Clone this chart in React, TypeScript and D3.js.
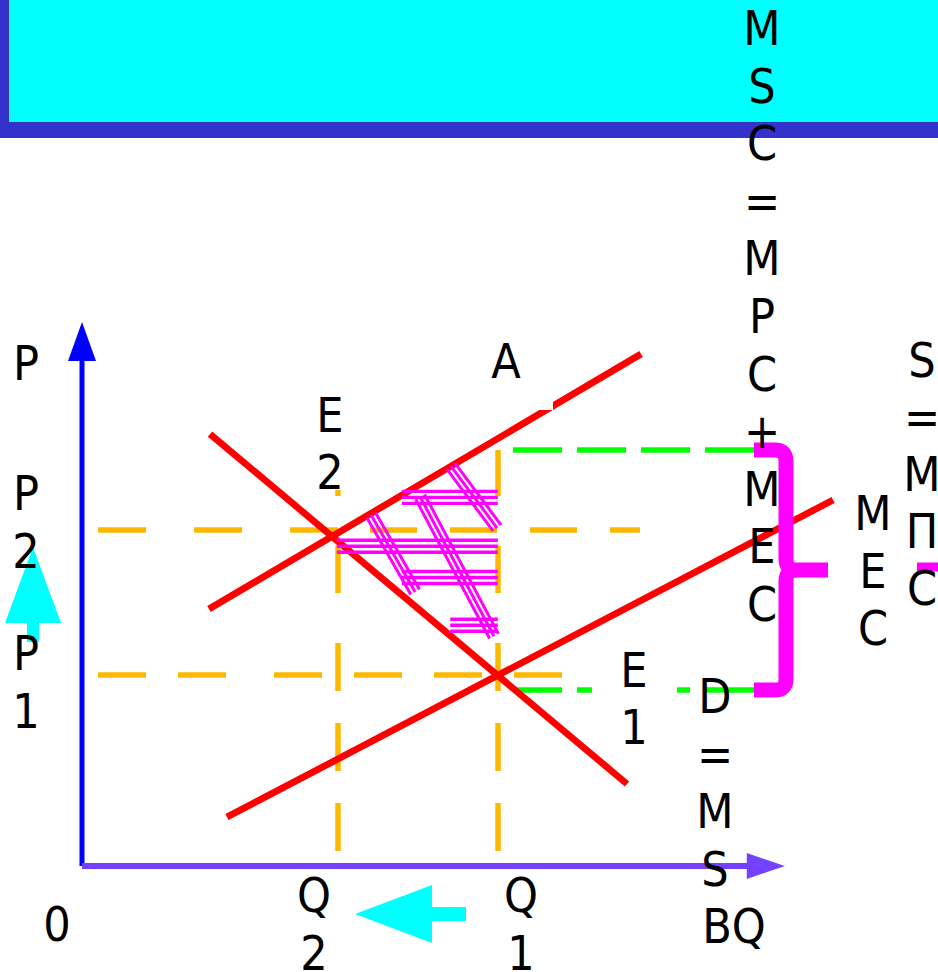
import React from 'react';
import * as d3 from 'd3';

const W = 938;
const H = 972;

// ---- scales (data units) ----
const xDomain = [0, 10];
const yDomain = [0, 10];

// ---- curves: MSC (= MPC + MEC), MPC (= S), D (= MSB) ----
const curveNames = ['MSC', 'MPC', 'D'];
const curveX0 = [1.814, 2.071, 1.829];
const curveY0 = [4.923, 0.923, 8.288];
const curveX1 = [7.986, 10.73, 7.786];
const curveY1 = [9.827, 7.02, 1.558];

// ---- equilibrium values ----
const P2 = 6.44;
const P1 = 3.654;
const Q2 = 3.657;
const Q1 = 5.943;
const socialCostAtQ1 = 7.981;
const privateCostAtQ1 = 3.365;
const mecMid = 5.673;

// ---- dashed guides ----
const guideOrient = ['h', 'h', 'h', 'h', 'v', 'v', 'v', 'v'];
const guideAt = [P2, P2, P1, P1, Q2, Q2, Q1, Q1];
const guideFrom = [0.229, 4.114, 0.229, 2.743, 0.269, 5.231, 0.269, 5.231];
const guideTo = [3.657, 7.971, 2.057, 6.857, 4.288, 7.212, 4.288, 7.981];
const guideDash = ['48 48', '47 33', '48 32', '48 32', '48 32', '47 50', '48 32', '47 50'];

// ---- green cost guides ----
const greenAt = [socialCostAtQ1, privateCostAtQ1];
const greenFrom = 6.157;
const greenTo = 9.643;

// ---- hatched welfare-loss area ----
const hatchHy = [7.07, 6.13, 5.53, 4.61];
const hatchHx0 = [4.57, 3.64, 4.57, 5.26];
const hatchHx1 = [5.94, 5.94, 5.94, 5.94];
const hatchDx0 = [5.27, 4.13, 4.83];
const hatchDy0 = [7.67, 6.73, 7.08];
const hatchDx1 = [5.93, 4.76, 5.886];
const hatchDy1 = [6.48, 5.25, 4.4];

// ---- bracket (MEC) ----
const bracketArm = 9.6;
const bracketSpine = 10.057;
const bracketNub = 10.657;

// ---- labels ----
const colMSC = ['M', 'S', 'C', '=', 'M', 'P', 'C', '+', 'M', 'E', 'C'];
const colS = ['S', '=', 'M', '\u03A0', 'C'];
const colMEC = ['M', 'E', 'C'];
const colD = ['D', '=', 'M', 'S'];

const FONT = "'Liberation Sans Narrow', 'DejaVu Sans Condensed', 'Liberation Sans', sans-serif";

function Col({ lines, x, y, step }: { lines: string[]; x: number; y: number; step: number }) {
  return (
    <text x={x} y={y} textAnchor="middle" fontSize={48} fontFamily={FONT} fill="#000">
      {lines.map((l, i) => (
        <tspan key={i} x={x} y={y + i * step}>
          {l}
        </tspan>
      ))}
    </text>
  );
}

function triple(x0: number, y0: number, x1: number, y1: number, sp: number) {
  const dx = x1 - x0;
  const dy = y1 - y0;
  const len = Math.hypot(dx, dy);
  const nx = -dy / len;
  const ny = dx / len;
  return [-1, 0, 1].map((k) => [x0 + nx * sp * k, y0 + ny * sp * k, x1 + nx * sp * k, y1 + ny * sp * k]);
}

export default function App() {
  React.useEffect(() => {
    document.body.style.margin = '0';
  }, []);

  const x = d3.scaleLinear().domain(xDomain).range([82, 782]);
  const y = d3.scaleLinear().domain(yDomain).range([865, 345]);
  const line = d3
    .line<[number, number]>()
    .x((d) => x(d[0]))
    .y((d) => y(d[1]));

  const yTop = y(socialCostAtQ1);
  const yBot = y(privateCostAtQ1);
  const yMid = y(mecMid);
  const xa = x(bracketArm);
  const xs = x(bracketSpine);
  const xn = x(bracketNub);
  const r = 11;
  const bracketPath =
    `M${xa},${yTop} H${xs - r} Q${xs},${yTop} ${xs},${yTop + r} V${yMid - r} Q${xs},${yMid} ${xs + r},${yMid} H${xn}` +
    ` M${xs + r},${yMid} Q${xs},${yMid} ${xs},${yMid + r} V${yBot - r} Q${xs},${yBot} ${xs - r},${yBot} H${xa}`;

  // cyan arrows (tip in data units)
  const upTip: [number, number] = [-0.7, 6.115];
  const leftTip: [number, number] = [3.9, -0.942];
  const ut = [x(upTip[0]), y(upTip[1])];
  const lt = [x(leftTip[0]), y(leftTip[1])];
  const upArrow = `M${ut[0]},${ut[1]} L${ut[0] + 28},${ut[1] + 76} L${ut[0] + 6},${ut[1] + 76} L${ut[0] + 6},${ut[1] + 95} L${ut[0] - 6},${ut[1] + 95} L${ut[0] - 6},${ut[1] + 76} L${ut[0] - 28},${ut[1] + 76} Z`;
  const leftArrow = `M${lt[0]},${lt[1]} L${lt[0] + 77},${lt[1] - 29} L${lt[0] + 77},${lt[1] - 7} L${lt[0] + 111},${lt[1] - 7} L${lt[0] + 111},${lt[1] + 7} L${lt[0] + 77},${lt[1] + 7} L${lt[0] + 77},${lt[1] + 29} Z`;

  const x0 = x(0);
  const y0 = y(0);
  const yAxisTip = y(10.44);
  const xAxisTip = x(10.04);

  return (
    <svg width={W} height={H} style={{ position: 'absolute', left: 0, top: 0, display: 'block', background: '#fff' }}>
      {/* header */}
      <rect x={0} y={0} width={W} height={138} fill="#3333CC" />
      <rect x={9} y={0} width={W - 9} height={122} fill="#00FFFF" />

      {/* orange guides */}
      {guideOrient.map((o, i) => {
        const pts: [number, number][] =
          o === 'h'
            ? [
                [guideFrom[i], guideAt[i]],
                [guideTo[i], guideAt[i]],
              ]
            : [
                [guideAt[i], guideFrom[i]],
                [guideAt[i], guideTo[i]],
              ];
        return <path key={'g' + i} d={line(pts) || ''} stroke="#FFB800" strokeWidth={5.5} strokeDasharray={guideDash[i]} fill="none" />;
      })}

      {/* green guides */}
      {greenAt.map((g, i) => (
        <path
          key={'gr' + i}
          d={line([
            [greenFrom, g],
            [greenTo, g],
          ]) || ''}
          stroke="#00FF00"
          strokeWidth={5.5}
          strokeDasharray="49 15"
          fill="none"
        />
      ))}

      {/* E1 label background */}
      <rect x={592} y={650} width={85} height={95} fill="#fff" />

      {/* curves */}
      {curveNames.map((n, i) => (
        <path
          key={n}
          d={line([
            [curveX0[i], curveY0[i]],
            [curveX1[i], curveY1[i]],
          ]) || ''}
          stroke="#FF0000"
          strokeWidth={6.8}
          fill="none"
        />
      ))}
      {/* A label box notch */}
      <rect x={538} y={400} width={15} height={10} fill="#fff" />

      {/* hatch */}
      <g stroke="#FF00FF" fill="none">
        {hatchHy.map((hy, i) =>
          triple(x(hatchHx0[i]), y(hy), x(hatchHx1[i]), y(hy), 6).map((s, k) => (
            <line key={'h' + i + k} x1={s[0]} y1={s[1]} x2={s[2]} y2={s[3]} strokeWidth={3.4} />
          ))
        )}
        {hatchDx0.map((hx, i) =>
          triple(x(hx), y(hatchDy0[i]), x(hatchDx1[i]), y(hatchDy1[i]), 5).map((s, k) => (
            <line key={'d' + i + k} x1={s[0]} y1={s[1]} x2={s[2]} y2={s[3]} strokeWidth={3} />
          ))
        )}
      </g>

      {/* MEC bracket */}
      <path d={bracketPath} stroke="#FF00FF" strokeWidth={15} fill="none" />
      <line x1={917} y1={567} x2={938} y2={567} stroke="#FF00FF" strokeWidth={9} />

      {/* axes */}
      <line x1={x0} y1={y0 + 1} x2={x0} y2={yAxisTip + 36} stroke="#0000FF" strokeWidth={5} />
      <path d={`M${x0},${yAxisTip} L${x0 + 14},${yAxisTip + 39} L${x0 - 14},${yAxisTip + 39} Z`} fill="#0000FF" />
      <line x1={x0} y1={y0 + 1} x2={xAxisTip - 36} y2={y0 + 1} stroke="#7341FF" strokeWidth={6} />
      <path d={`M${xAxisTip},${y0 + 1} L${xAxisTip - 38},${y0 + 1 - 13} L${xAxisTip - 38},${y0 + 1 + 13} Z`} fill="#7341FF" />

      {/* cyan arrows */}
      <path d={upArrow} fill="#00FFFF" />
      <path d={leftArrow} fill="#00FFFF" />

      {/* labels */}
      <Col lines={colMSC} x={762} y={45} step={57.6} />
      <Col lines={['P']} x={26} y={380} step={58} />
      <Col lines={['P', '2']} x={26} y={510} step={58} />
      <Col lines={['P', '1']} x={26} y={670} step={58} />
      <Col lines={['0']} x={57} y={941} step={58} />
      <Col lines={['Q', '2']} x={314} y={912} step={58} />
      <Col lines={['Q', '1']} x={521} y={912} step={58} />
      <Col lines={['A']} x={506} y={378} step={58} />
      <Col lines={['E', '2']} x={330} y={432} step={57} />
      <Col lines={['E', '1']} x={634} y={687} step={57} />
      <Col lines={colD} x={715} y={713} step={57.5} />
      <Col lines={['BQ']} x={734} y={943} step={57.5} />
      <Col lines={colMEC} x={873} y={530} step={57.5} />
      <Col lines={colS} x={922} y={377} step={57} />
    </svg>
  );
}
